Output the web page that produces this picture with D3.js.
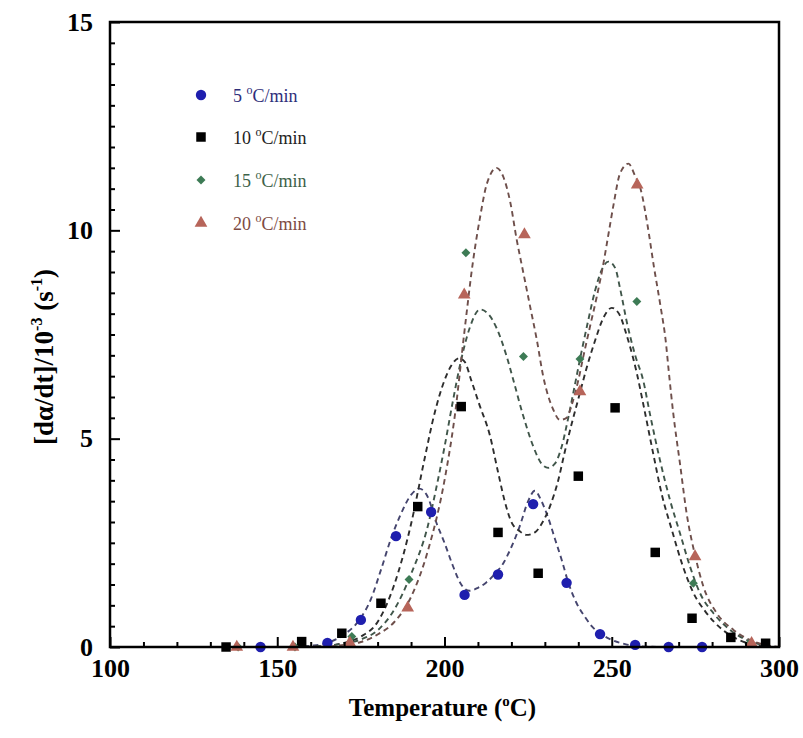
<!DOCTYPE html>
<html><head><meta charset="utf-8">
<script src="https://cdn.jsdelivr.net/npm/d3@7"></script>
<style>body{margin:0;background:#fff}</style>
</head><body>
<svg id="c" width="803" height="738"></svg>
<script>
// ---- data ----
const rateLabels = ["5", "10", "15", "20"];
const xTicks = [100, 150, 200, 250, 300];
const yTicks = [0, 5, 10, 15];

// measured points
const T5 = [145,165,175,185.5,196,206,216,226.5,236.5,246.5,257,267,277];
const V5 = [0,0.1,0.65,2.66,3.24,1.25,1.74,3.43,1.54,0.31,0.05,0,0];
const T10 = [134.7,157.3,169.3,181,192,205,216,228,240,251,263,274,285.6,296];
const V10 = [0,0.13,0.33,1.05,3.37,5.77,2.75,1.77,4.1,5.74,2.27,0.69,0.23,0.09];
const T15 = [138.3,155.3,172.3,189.4,206.4,223.6,240.5,257.5,274.4,291];
const V15 = [0,0,0.25,1.62,9.46,6.97,6.91,8.29,1.53,0.08];
const T20 = [137.9,154.7,171.7,189,205.9,223.9,240.5,257.6,274.9,291.8];
const V20 = [0,0,0.1,0.94,8.45,9.9,6.13,11.09,2.17,0.09];

// fitted (dashed) curves
const fitT5 = [155,160,165,170,175,178,181,184,187,190,192.5,195,197.5,200,202.5,205,207.5,210,212.5,215,217.5,220,222.5,225,227,229,231,233,235,237,239.5,242,244,247,250,254,258,265];
const fitV5 = [0,0.03,0.1,0.3,0.7,1.15,1.85,2.6,3.2,3.65,3.8,3.6,3.0,2.5,1.95,1.5,1.35,1.42,1.55,1.75,2.0,2.4,2.9,3.5,3.75,3.5,3.1,2.6,2.1,1.55,1.05,0.72,0.5,0.3,0.17,0.07,0.02,0];
const fitT10 = [150,160,165,170,175,180,185,190,194,197,200,202,204.3,206,208,210.5,213.5,216,218,220,222.5,224.5,227,229,231.5,234,236,238,240,242.5,245,247.5,250,252.5,254,255.5,257.5,259.5,262.5,265,268,271,274.4,278,283,288,293,298];
const fitV10 = [0,0.01,0.03,0.1,0.25,0.6,1.5,2.95,4.5,5.6,6.4,6.75,6.93,6.85,6.4,5.8,5.1,4.2,3.5,3.0,2.78,2.69,2.75,2.95,3.37,4.0,4.7,5.35,5.95,6.7,7.35,7.9,8.14,7.95,7.6,7.2,6.57,5.8,4.6,3.65,2.8,2.0,1.3,0.85,0.42,0.17,0.05,0];
const fitT15 = [150,160,165,170,175,180,185,190,195,197.5,200,202.5,205,207.5,210.6,213,215.6,218.6,220.6,223.6,226.6,229,231,233,235,237,239,241,243,245,247,249,251,252.5,254.5,257,259.4,261.4,264.4,267.4,270.4,273.4,276.4,280.4,285.4,290.3,295.3,299];
const fitV15 = [0,0.01,0.03,0.08,0.18,0.4,0.9,1.75,2.9,3.8,4.8,5.9,6.9,7.65,8.1,8.0,7.65,6.97,6.4,5.53,4.8,4.4,4.3,4.4,4.8,5.5,6.3,7.1,7.85,8.55,9.05,9.25,9.1,8.6,7.8,7.0,6.4,5.6,4.49,3.53,2.73,1.93,1.29,0.81,0.41,0.17,0.05,0];
const fitT20 = [160,170,175,180,185,190,195,200,203,206,208.6,210.6,212.6,215.6,217.5,219.6,221.6,223.6,225.6,227.6,229.5,232.5,234.5,236.5,238,240,241.5,243.5,245.5,247.5,249,250.5,252.5,255,257,258.7,260.6,262.6,264.6,266.1,267.1,268.4,270.4,272.4,275,277.4,281.4,286.4,291.3,296,300];
const fitV20 = [0,0.05,0.12,0.3,0.6,1.2,2.3,4.0,5.5,7.6,9.3,10.3,11.1,11.5,11.3,10.7,9.77,8.97,8.17,7.37,6.5,5.7,5.45,5.5,5.8,6.4,6.97,7.69,8.4,9.2,9.9,10.6,11.37,11.6,11.3,10.97,10.17,9.13,8.17,7.37,6.57,5.6,4.4,3.2,2.17,1.45,0.81,0.41,0.17,0.05,0];

const markerColors = ["#1f1fae", "#000000", "#3d7b55", "#b7655a"];
const textColors = ["#2e2e7a", "#222222", "#3d6249", "#7d4a42"];
const curveColors = ["#45456e", "#2d2d2d", "#40564a", "#6e4f4b"];
const shapes = [d3.symbolCircle, d3.symbolSquare, d3.symbolSquare, d3.symbolTriangle];
const shapeSizes = [85, 90, 40, 70];
const shapeRot = [0, 0, 45, 0];

const points = [[T5,V5],[T10,V10],[T15,V15],[T20,V20]];
const fits = [[fitT5,fitV5],[fitT10,fitV10],[fitT15,fitV15],[fitT20,fitV20]];

// ---- layout ----
const svg = d3.select("#c");
const L = 110, R = 779, Tp = 22, B = 647;
const x = d3.scaleLinear().domain([100, 300]).range([L, R]);
const y = d3.scaleLinear().domain([0, 15]).range([B, Tp]);
const serif = "'Liberation Serif','Times New Roman',serif";

// fitted curves
const line = d3.line().x(d => x(d[0])).y(d => y(d[1])).curve(d3.curveMonotoneX);
fits.forEach((f, i) => {
  const pts = f[0].map((t, k) => [t, f[1][k]]);
  svg.append("path").attr("d", line(pts)).attr("fill", "none")
    .attr("stroke", curveColors[i]).attr("stroke-width", 1.9)
    .attr("stroke-dasharray", "5.5,4");
});

// points
points.forEach((p, i) => {
  const sym = d3.symbol().type(shapes[i]).size(shapeSizes[i]);
  svg.append("g").selectAll("path").data(p[0].map((t, k) => [t, p[1][k]]))
    .join("path").attr("d", sym)
    .attr("transform", d => `translate(${x(d[0])},${y(d[1])}) rotate(${shapeRot[i]})`)
    .attr("fill", markerColors[i]);
});

// axes (inward ticks)
const xMinor = d3.range(100, 301, 10).filter(v => v % 50 !== 0);
const yMinor = d3.range(0, 15.01, 0.5).filter(v => v % 5 !== 0);
svg.append("g").attr("transform", `translate(0,${B})`)
  .call(d3.axisBottom(x).tickValues(xMinor).tickSize(-5).tickFormat(""))
  .call(g => g.select(".domain").remove())
  .selectAll("line").attr("stroke", "#000").attr("stroke-width", 2);
svg.append("g").attr("transform", `translate(${L},0)`)
  .call(d3.axisLeft(y).tickValues(yMinor).tickSize(-5).tickFormat(""))
  .call(g => g.select(".domain").remove())
  .selectAll("line").attr("stroke", "#000").attr("stroke-width", 2);
const gx = svg.append("g").attr("transform", `translate(0,${B})`)
  .call(d3.axisBottom(x).tickValues(xTicks).tickSize(-10).tickPadding(12).tickFormat(d3.format("d")));
gx.select(".domain").remove();
gx.selectAll("line").attr("stroke", "#000").attr("stroke-width", 2);
gx.selectAll("text").attr("font-family", serif).attr("font-weight", "bold")
  .attr("font-size", 26).attr("fill", "#000").attr("dy", "0.71em");
const gy = svg.append("g").attr("transform", `translate(${L},0)`)
  .call(d3.axisLeft(y).tickValues(yTicks).tickSize(-10).tickPadding(17).tickFormat(d3.format("d")));
gy.select(".domain").remove();
gy.selectAll("line").attr("stroke", "#000").attr("stroke-width", 2);
gy.selectAll("text").attr("font-family", serif).attr("font-weight", "bold")
  .attr("font-size", 26).attr("fill", "#000");

// frame
svg.append("rect").attr("x", L).attr("y", Tp).attr("width", R - L).attr("height", B - Tp)
  .attr("fill", "none").attr("stroke", "#000").attr("stroke-width", 2.5);

// axis titles
const xt = svg.append("text").attr("x", (L + R) / 2 - 2).attr("y", 716)
  .attr("text-anchor", "middle").attr("font-family", serif).attr("font-weight", "bold")
  .attr("font-size", 25).attr("fill", "#000");
xt.append("tspan").text("Temperature (");
xt.append("tspan").text("o").attr("font-size", 15).attr("dy", -10);
xt.append("tspan").text("C)").attr("dy", 10);

const yt = svg.append("text").attr("transform", "translate(53,357) rotate(-90)")
  .attr("text-anchor", "middle").attr("font-family", serif).attr("font-weight", "bold")
  .attr("font-size", 27).attr("fill", "#000");
yt.append("tspan").text("[dα/dt]/10");
yt.append("tspan").text("-3").attr("font-size", 16).attr("dy", -11);
yt.append("tspan").text(" (s").attr("dy", 11);
yt.append("tspan").text("-1").attr("font-size", 16).attr("dy", -11);
yt.append("tspan").text(")").attr("dy", 11);

// legend
const legY = [95, 137, 180, 223];
rateLabels.forEach((r, i) => {
  const sym = d3.symbol().type(shapes[i]).size(shapeSizes[i]);
  svg.append("path").attr("d", sym).attr("transform", `translate(201,${legY[i]}) rotate(${shapeRot[i]})`)
    .attr("fill", markerColors[i]);
  const t = svg.append("text").attr("x", 233).attr("y", legY[i] + 7)
    .attr("font-family", serif).attr("font-size", 18).attr("fill", textColors[i]);
  t.append("tspan").text(r + " ");
  t.append("tspan").text("o").attr("font-size", 12).attr("dy", -8);
  t.append("tspan").text("C/min").attr("dy", 8);
});
</script>
</body></html>
